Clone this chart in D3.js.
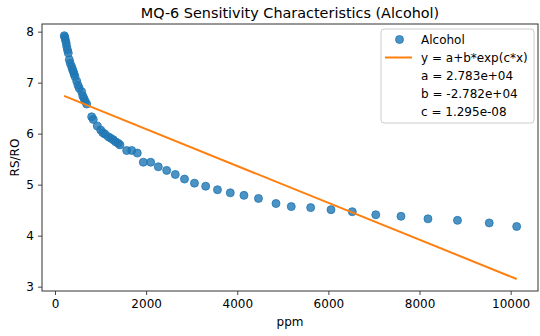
<!DOCTYPE html>
<html>
<head>
<meta charset="utf-8">
<script src="https://cdn.jsdelivr.net/npm/d3@7"></script>
<style>
  body { margin: 0; background: #fff; }
  text { font-family: "DejaVu Sans", sans-serif; fill: #000; }
</style>
</head>
<body>
<div class="chart"></div>
<script>
const ppm = [204, 215, 228, 245, 257, 275, 292, 314, 335, 366, 385, 402, 420, 439, 476, 505, 533, 586, 610, 636,
    665, 696, 805, 840, 928, 1003, 1050, 1097, 1170, 1225, 1279, 1330, 1389, 1426, 1573, 1683, 1806,
    1938, 2100, 2267, 2451, 2640, 2842, 3061, 3307, 3566, 3847, 4147, 4466, 4850, 5185, 5611, 6057,
    6524, 7040, 7593, 8185, 8833, 9530, 10132];
const rsro = [7.92, 7.89, 7.84, 7.78, 7.71, 7.64, 7.58, 7.45, 7.38, 7.31, 7.26, 7.22, 7.17, 7.12, 7.03, 6.95, 6.89, 6.82, 6.74, 6.69,
    6.63, 6.58, 6.33, 6.28, 6.15, 6.07, 6.02, 5.99, 5.94, 5.91, 5.88, 5.84, 5.81, 5.78, 5.67, 5.67, 5.62,
    5.44, 5.44, 5.35, 5.28, 5.20, 5.11, 5.03, 4.97, 4.90, 4.84, 4.79, 4.73, 4.63, 4.57, 4.55, 4.51,
    4.47, 4.41, 4.38, 4.33, 4.30, 4.25, 4.18];

// Fitted curve (effectively straight over this range)
const fitPpm = [200, 10132];
const fitRsro = [6.74, 3.15];

const xTicks = [0, 2000, 4000, 6000, 8000, 10000];
const yTicks = [3, 4, 5, 6, 7, 8];
const legendLabels = ['Alcohol', 'y = a+b*exp(c*x)', 'a = 2.783e+04', 'b = -2.782e+04', 'c = 1.295e-08'];

const width = 540, height = 336, margin = { top: 24, right: 2, bottom: 45, left: 42 };
const blue = '#1f77b4', orange = '#ff7f0e';

const svg = d3.select('.chart').append('svg')
    .attr('width', width)
    .attr('height', height);

const x = d3.scaleLinear().domain([-285, 10600]).range([margin.left, width - margin.right]);
const y = d3.scaleLinear().domain([2.915, 8.15]).range([height - margin.bottom, margin.top]);

const points = ppm.map((p, i) => ({ ppm: p, rsro: rsro[i] }));
const fit = fitPpm.map((p, i) => ({ ppm: p, rsro: fitRsro[i] }));

// Scatter
svg.append('g').selectAll('circle')
    .data(points)
    .join('circle')
    .attr('cx', d => x(d.ppm))
    .attr('cy', d => y(d.rsro))
    .attr('r', 4)
    .attr('fill', blue)
    .attr('fill-opacity', 0.8)
    .attr('stroke', blue)
    .attr('stroke-opacity', 0.8)
    .attr('stroke-width', 1);

// Fit line
svg.append('path')
    .datum(fit)
    .attr('d', d3.line().x(d => x(d.ppm)).y(d => y(d.rsro)))
    .attr('fill', 'none')
    .attr('stroke', orange)
    .attr('stroke-width', 2);

// Axes
const xAxis = svg.append('g')
    .attr('transform', `translate(0,${height - margin.bottom})`)
    .call(d3.axisBottom(x).tickValues(xTicks).tickFormat(d3.format('d')).tickSizeInner(4).tickSizeOuter(0).tickPadding(4));
const yAxis = svg.append('g')
    .attr('transform', `translate(${margin.left},0)`)
    .call(d3.axisLeft(y).tickValues(yTicks).tickFormat(d3.format('d')).tickSizeInner(4).tickSizeOuter(0).tickPadding(4));
[xAxis, yAxis].forEach(g => {
    g.select('.domain').remove();
    g.selectAll('line').attr('stroke', '#333').attr('stroke-width', 0.9);
    g.selectAll('text').style('font-size', '12px').style('font-family', '"DejaVu Sans", sans-serif');
});

// Frame
svg.append('rect')
    .attr('x', margin.left)
    .attr('y', margin.top)
    .attr('width', width - margin.left - margin.right)
    .attr('height', height - margin.top - margin.bottom)
    .attr('fill', 'none')
    .attr('stroke', '#333')
    .attr('stroke-width', 1);

// Title and axis labels
svg.append('text').attr('x', (margin.left + width - margin.right) / 2).attr('y', 18)
    .attr('text-anchor', 'middle').style('font-size', '14.4px')
    .text('MQ-6 Sensitivity Characteristics (Alcohol)');
svg.append('text').attr('x', (margin.left + width - margin.right) / 2).attr('y', 326)
    .attr('text-anchor', 'middle').style('font-size', '12px').text('ppm');
svg.append('text').attr('transform', 'rotate(-90)')
    .attr('x', -(margin.top + height - margin.bottom) / 2).attr('y', 19)
    .attr('text-anchor', 'middle').style('font-size', '12px').text('RS/RO');

// Legend
const legend = svg.append('g').attr('transform', 'translate(381,29)');
legend.append('rect')
    .attr('width', 153).attr('height', 94).attr('rx', 3)
    .attr('fill', '#fff').attr('fill-opacity', 0.8)
    .attr('stroke', '#ccc').attr('stroke-width', 1);

legendLabels.forEach((label, i) => {
    legend.append('text')
        .attr('x', 40).attr('y', 10.5 + i * 18)
        .attr('dy', '0.35em')
        .style('font-size', '12px')
        .text(label);
});
legend.append('circle')
    .attr('cx', 18.5).attr('cy', 10.5).attr('r', 4)
    .attr('fill', blue).attr('fill-opacity', 0.8)
    .attr('stroke', blue).attr('stroke-opacity', 0.8);
legend.append('line')
    .attr('x1', 4).attr('x2', 31).attr('y1', 28.5).attr('y2', 28.5)
    .attr('stroke', orange).attr('stroke-width', 2);
</script>
</body>
</html>
